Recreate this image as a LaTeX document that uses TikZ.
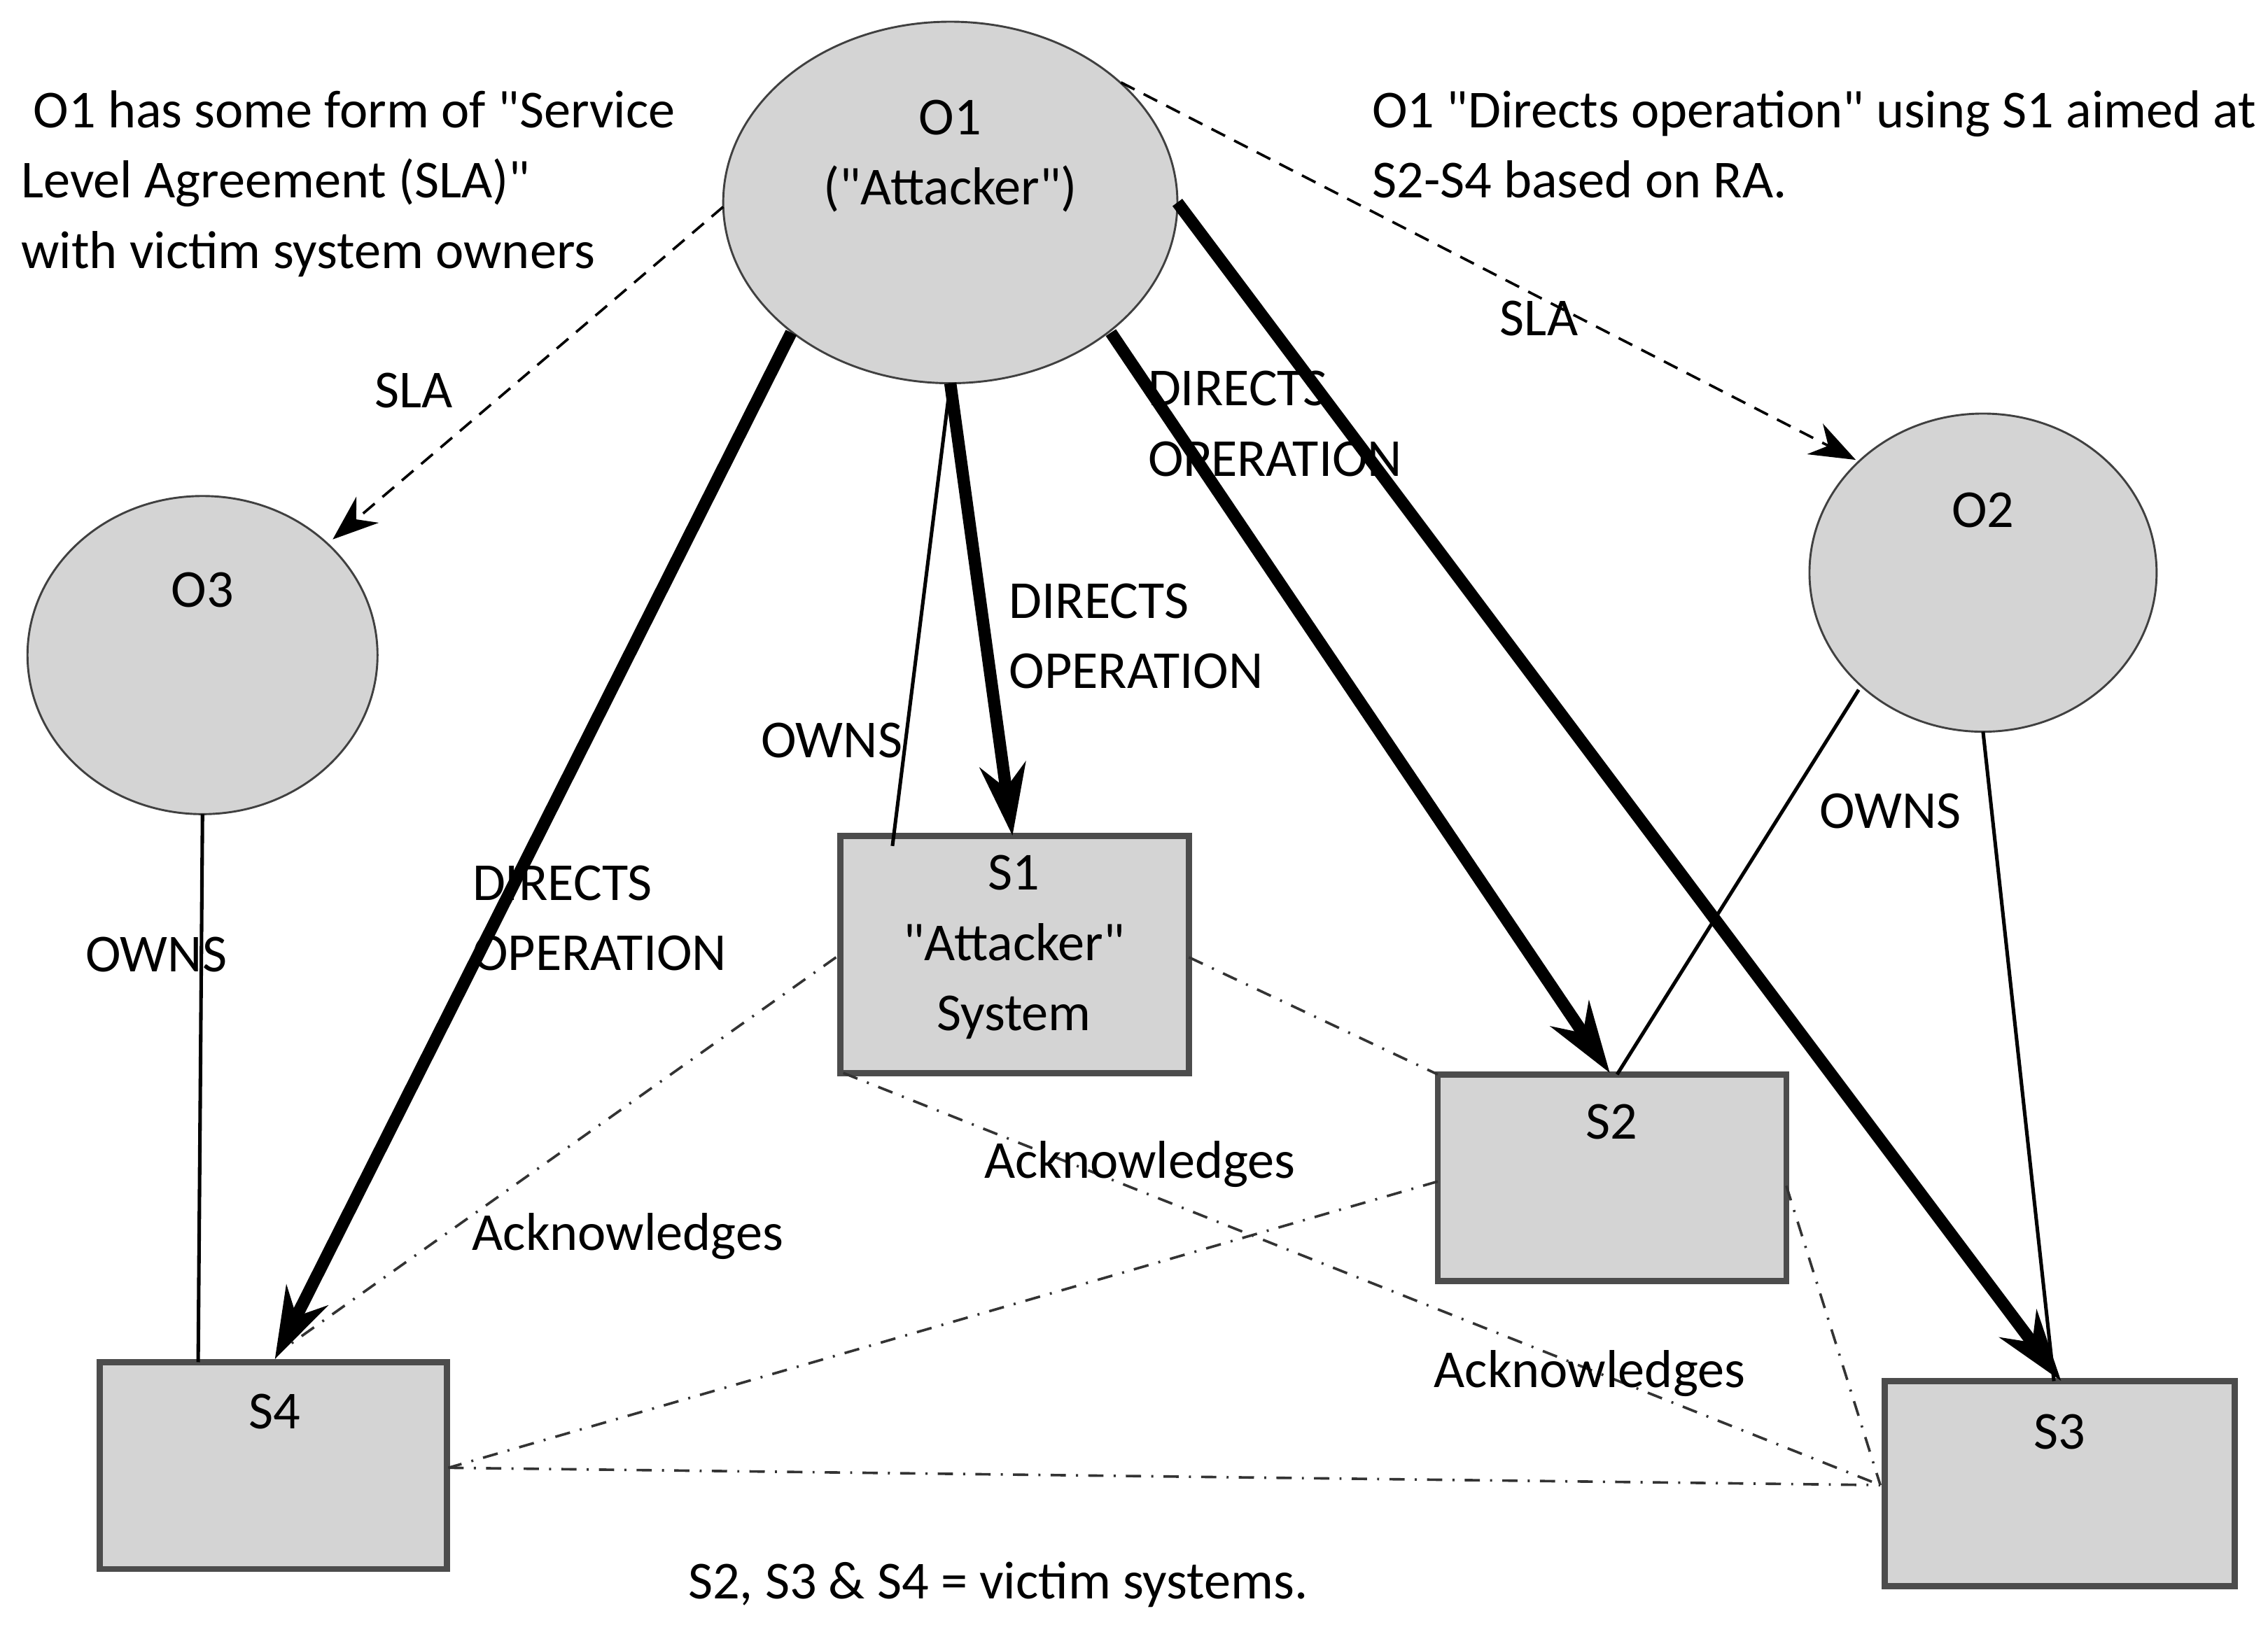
\documentclass[tikz,border=0pt]{standalone}
\usepackage{fontspec}
\setmainfont{Carlito}
\usetikzlibrary{arrows.meta}
\newcommand{\qq}{\textquotedbl}
\begin{document}
\begin{tikzpicture}[x=0.01cm,y=-0.01cm,
 box/.style={draw=black!70,fill=black!17,line width=1.2pt},
 thick arr/.style={line width=2.4pt,-{Stealth[length=14pt,width=9pt]}},
 sla/.style={densely dashed,line width=0.5pt,-{Stealth[length=9pt]}},
 ack/.style={dash dot,line width=0.5pt,black!80},
 own/.style={line width=0.7pt},
 lbl/.style={font=\fontsize{10.5pt}{13.8pt}\selectfont,align=left,inner sep=0pt}]
\useasboundingbox (0,0) rectangle (1568,1133);
\draw[black!75,fill=black!17] (657,140) ellipse [x radius=157,y radius=125];
\draw[black!75,fill=black!17] (1371,396) ellipse [x radius=120,y radius=110];
\draw[black!75,fill=black!17] (140,453) ellipse [x radius=121,y radius=110];
\coordinate (o1b) at (657,265); \coordinate (o1l) at (500,143);
\coordinate (o1bl) at (547,230); \coordinate (o1br) at (768,230);
\coordinate (o1r) at (814,140); \coordinate (o1tr) at (775,57);
\coordinate (o3a) at (230,373); \coordinate (o3b) at (140,563);
\coordinate (o2a) at (1283,318); \coordinate (o2b) at (1285,477); \coordinate (o2c) at (1371,506);
\node[lbl,align=center] (t1) at (657,108) {O1\\(\qq Attacker\qq)};
\node[lbl] (t2) at (1371,353) {O2};
\node[lbl] (t3) at (140,408) {O3};
\draw[box] (581,578) rectangle (822,742);
\draw[box] (994,743) rectangle (1235,886);
\draw[box] (1303,955) rectangle (1545,1097);
\draw[box] (69,942) rectangle (309,1085);
\node[lbl,align=center] (s1) at (701,655) {S1\\\qq Attacker\qq\\System};
\node[lbl] (s2) at (1114,776) {S2};
\node[lbl] (s3) at (1424,990) {S3};
\node[lbl] (s4) at (190,976) {S4};
\coordinate (s1t) at (700,578); \coordinate (s1o) at (617,585);
\coordinate (s1l) at (578,662); \coordinate (s1r) at (822,662); \coordinate (s1bl) at (583,742);
\coordinate (s2t) at (1113,742); \coordinate (s2o) at (1118,743); \coordinate (s2tl) at (994,743);
\coordinate (s2l) at (994,817); \coordinate (s2r) at (1235,820);
\coordinate (s3t) at (1425,955); \coordinate (s3o) at (1420,955); \coordinate (s3l) at (1300,1027);
\coordinate (s4t) at (190,940); \coordinate (s4o) at (137,942); \coordinate (s4r) at (310,1015);
\coordinate (s4a) at (200,930);
\draw[own] (o1b) -- (s1o);
\draw[own] (o3b) -- (s4o);
\draw[own] (o2b) -- (s2o);
\draw[own] (o2c) -- (s3o);
\draw[sla] (o1l) -- (o3a);
\draw[sla] (o1tr) -- (o2a);
\draw[thick arr] (o1b) -- (s1t);
\draw[thick arr] (o1bl) -- (s4t);
\draw[thick arr] (o1br) -- (s2t);
\draw[thick arr] (o1r) -- (s3t);
\draw[ack] (s1l) -- (s4a);
\draw[ack] (s1r) -- (s2tl);
\draw[ack] (s1bl) -- (s3l);
\draw[ack] (s2l) -- (s4r);
\draw[ack] (s4r) -- (s3l);
\draw[ack] (s2r) -- (s3l);
\node[lbl,anchor=north west] (a1) at (14,62) {\ O1 has some form of \qq Service\\Level Agreement (SLA)\qq\\with victim system owners};
\node[lbl,anchor=north west] (a2) at (948,62) {O1 \qq Directs operation\qq\ using S1 aimed at\\S2-S4 based on RA.};
\node[lbl] (l1) at (286,270) {SLA};
\node[lbl] (l2) at (1064,220) {SLA};
\node[lbl,anchor=west] (l3) at (793,293) {DIRECTS\\OPERATION};
\node[lbl,anchor=west] (l4) at (697,440) {DIRECTS\\OPERATION};
\node[lbl,anchor=west] (l5) at (326,635) {DIRECTS\\OPERATION};
\node[lbl] (l6) at (575,512) {OWNS};
\node[lbl] (l7) at (108,660) {OWNS};
\node[lbl] (l8) at (1307,561) {OWNS};
\node[lbl] (l9) at (788,805) {Acknowledges};
\node[lbl] (l10) at (434,855) {Acknowledges};
\node[lbl] (l11) at (1099,950) {Acknowledges};
\node[lbl] (l12) at (690,1096) {S2, S3 \& S4 = victim systems.};
\end{tikzpicture}
\end{document}
